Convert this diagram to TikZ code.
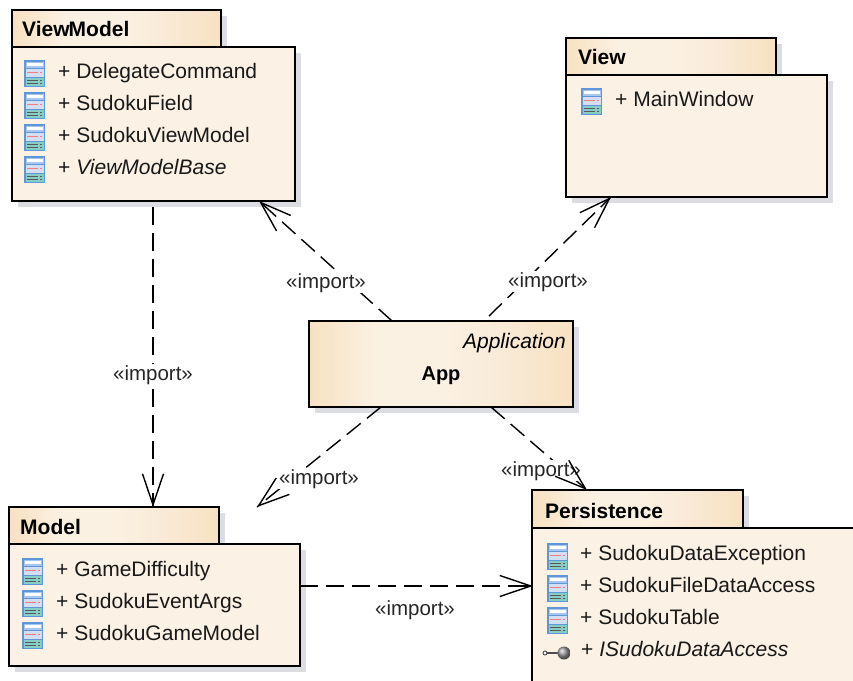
\documentclass[tikz,border=0pt]{standalone}
\usepackage{fontspec}
\setmainfont{Liberation Sans}
\usetikzlibrary{arrows.meta,calc}
\definecolor{tabdark}{HTML}{F7E1C1}
\definecolor{tablight}{HTML}{FBF1E3}
\definecolor{tabmid}{HTML}{F9EAD6}
\definecolor{bodyfill}{HTML}{FBF1E4}
\definecolor{shadowc}{HTML}{DCDCE3}
\definecolor{iconedge}{HTML}{5F96DA}
\definecolor{icontop}{HTML}{A9C6EE}
\definecolor{iconmid}{HTML}{D5DDF0}
\definecolor{iconlow}{HTML}{86CDC6}
\definecolor{iconred}{HTML}{EE7F7F}
\pgfdeclarehorizontalshading{tabshade}{100bp}{color(0bp)=(tabdark);color(25bp)=(tabdark);color(38bp)=(tablight);color(50bp)=(tablight);color(62bp)=(tabmid);color(75bp)=(tabdark);color(100bp)=(tabdark)}
\tikzset{
  x=1pt,y=-1pt,
  pkgtab/.style={draw=black,line width=1.5pt,shading=tabshade,anchor=north west,inner sep=0pt,outer sep=0pt},
  pkgbody/.style={draw=black,line width=1.5pt,fill=bodyfill,anchor=north west,inner sep=0pt,outer sep=0pt},
  tabtext/.style={anchor=base west,inner sep=0pt,font=\fontsize{21}{23}\selectfont\bfseries},
  itemtext/.style={anchor=base west,inner sep=0pt,font=\fontsize{21}{23}\selectfont,text=black!90},
  importlabel/.style={anchor=base,inner sep=1pt,fill=white,font=\fontsize{20.5}{23}\selectfont,text=black!85},
  depline/.style={line width=1.4pt,dash pattern=on 18pt off 8pt},
  deptip/.style={line width=1.4pt,-{Straight Barb[length=31pt,width=21pt,line width=1.4pt]},shorten <=0pt},
}
\newcommand{\pkgbox}[9]{% name, tab x, tab y, tab w, tab h, body w, body h, title, text x/baseline
  \fill[shadowc] (#2+#4,#3+6) rectangle (#2+#4+6,#3+#5);
  \fill[shadowc] (#2+6,#3+#5+6) rectangle (#2+#6+6,#3+#5+#7+6);
  \node[pkgtab,minimum width=#4 pt,minimum height=#5 pt] (#1tab) at (#2,#3) {};
  \node[pkgbody,minimum width=#6 pt,minimum height=#7 pt] (#1) at (#2,#3+#5) {};
  \node[tabtext] (#1title) at (#9) {#8};
}
\newcommand{\classicon}[2]{%
  \begin{scope}[shift={(#1,#2)}]
    \fill[iconedge] (0,0) rectangle (21,27);
    \fill[icontop] (1.5,1.5) rectangle (19.5,8);
    \fill[white] (2.5,2.5) rectangle (18.5,6);
    \fill[iconmid] (1.5,9) rectangle (19.5,17);
    \fill[iconred] (3,11.8) rectangle (14,13.4);
    \fill[iconred] (16,11.8) rectangle (18,13.4);
    \fill[iconlow] (1.5,18) rectangle (19.5,25.5);
    \fill[black!65] (3,19.5) rectangle (14,21);
    \fill[black!65] (3,22.5) rectangle (14,24);
    \fill[black!65] (16,19.5) rectangle (18,21);
    \fill[black!65] (16,22.5) rectangle (18,24);
  \end{scope}
}
\begin{document}
\begin{tikzpicture}
\useasboundingbox (0,0) rectangle (853,680);
\pkgbox{vm}{12}{10}{209}{37}{283}{154}{View\kern-1pt Model}{22,36}
\pkgbox{view}{566}{38}{210}{37}{261}{122}{View}{578,64}
\pkgbox{model}{9}{507}{210}{37}{291}{122}{Model}{20,534}
\pkgbox{pers}{532}{490}{211}{38}{330}{170}{Persistence}{545,518}
% application
\fill[shadowc] (315,327) rectangle (579,413);
\node[pkgtab,minimum width=264pt,minimum height=86pt] (app) at (309,321) {};
\node[anchor=base east,inner sep=0pt,font=\fontsize{21}{23}\selectfont\itshape] (appkind) at (566,348) {Application};
\node[anchor=base,inner sep=0pt,font=\fontsize{20}{23}\selectfont\bfseries] (appname) at (441,380) {App};
% items
\classicon{24}{60}\node[itemtext] (i1) at (58,78) {+ DelegateCommand};
\classicon{24}{92}\node[itemtext] (i2) at (58,110) {+ SudokuField};
\classicon{24}{124}\node[itemtext] (i3) at (58,142) {+ SudokuViewModel};
\classicon{24}{156}\node[itemtext] (i4) at (58,174) {+ \textit{ViewModelBase}};
\classicon{581}{88}\node[itemtext] (i5) at (615,106) {+ MainWindow};
\classicon{22}{558}\node[itemtext] (i6) at (56,576) {+ GameDifficulty};
\classicon{22}{590}\node[itemtext] (i7) at (56,608) {+ SudokuEventArgs};
\classicon{22}{622}\node[itemtext] (i8) at (56,640) {+ SudokuGameModel};
\classicon{547}{543}\node[itemtext] (i9) at (580,560) {+ SudokuDataException};
\classicon{547}{575}\node[itemtext] (i10) at (580,592) {+ SudokuFileDataAccess};
\classicon{547}{607}\node[itemtext] (i11) at (580,624) {+ SudokuTable};
\node[itemtext] (i12) at (581,656) {+ \textit{ISudokuDataAccess}};
\draw[black!70,line width=0.9pt,fill=white] (545,653) circle (2);
\draw[black!70,line width=1.1pt] (547,653) -- (557,653);
\shade[ball color=black!40] (564,653) circle (6.5);
% connector ends
\coordinate (aTL) at ($(app.north west)+(83,0)$);
\coordinate (aTR) at ($(app.north west)+(180,-5)$);
\coordinate (aBL) at ($(app.south west)+(72,0)$);
\coordinate (aBR) at ($(app.south west)+(182,0)$);
\coordinate (vmB) at ($(vm.south west)+(141,6)$);
\coordinate (vmA) at ($(vm.south west)+(247,0)$);
\coordinate (vA) at ($(view.south west)+(45,0)$);
\coordinate (mT) at ($(modeltab.north west)+(144,0)$);
\coordinate (mA) at ($(modeltab.north west)+(248,0)$);
\coordinate (pT) at ($(perstab.north west)+(55,0)$);
\coordinate (mR) at ($(model.north east)+(0,42)$);
\coordinate (pL) at ($(pers.north west)+(1,58)$);
% connector lines
\draw[depline] (aTL) -- (vmA);
\draw[depline] (aTR) -- (vA);
\draw[depline] (vmB) -- (mT);
\draw[depline] (aBL) -- (mA);
\draw[depline] (aBR) -- (pT);
\draw[depline] (mR) -- (pL);
% labels
\node[importlabel] (l1) at (326,288) {«import»};
\node[importlabel] (l2) at (548,287) {«import»};
\node[importlabel] (l3) at (153,380) {«import»};
\node[importlabel] (l4) at (319,484) {«import»};
\node[importlabel] (l5) at (541,476) {«import»};
\node[importlabel,fill=none] (l6) at (415,615) {«import»};
% arrowheads, over the labels
\draw[deptip] ($(aTL)!0.97!(vmA)$) -- (vmA);
\draw[deptip] ($(aTR)!0.97!(vA)$) -- (vA);
\draw[deptip] ($(vmB)!0.97!(mT)$) -- (mT);
\draw[deptip] ($(aBL)!0.97!(mA)$) -- (mA);
\draw[deptip] ($(aBR)!0.97!(pT)$) -- (pT);
\draw[deptip] ($(mR)!0.97!(pL)$) -- (pL);
\end{tikzpicture}
\end{document}
